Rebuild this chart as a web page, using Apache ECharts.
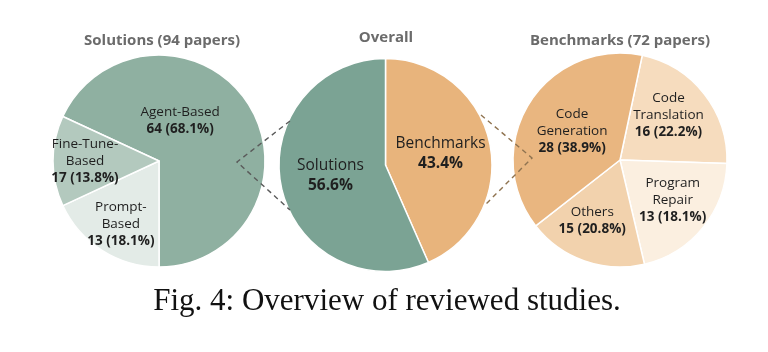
<!DOCTYPE html>
<html><head><meta charset="utf-8">
<script src="https://cdn.jsdelivr.net/npm/echarts@6/dist/echarts.min.js"></script>
<style>html,body{margin:0;padding:0;background:#fff}#c{width:768px;height:352px}</style>
</head><body><div id="c"></div>
<script>
// ---- data ----
const solutionCats = ['Agent-Based', 'Prompt-Based', 'Fine-Tune-Based'];
const solutionLabels = ['Agent-Based', 'Prompt-\nBased', 'Fine-Tune-\nBased'];
const solutionCounts = [64, 13, 17];
const solutionPctText = ['68.1%', '18.1%', '13.8%'];
const solutionShare = [68.1, 18.1, 13.8];

const overallCats = ['Benchmarks', 'Solutions'];
const overallShare = [43.4, 56.6];

const benchCats = ['Code Translation', 'Program Repair', 'Others', 'Code Generation'];
const benchLabels = ['Code\nTranslation', 'Program\nRepair', 'Others', 'Code\nGeneration'];
const benchCounts = [16, 13, 15, 28];
const benchPctText = ['22.2%', '18.1%', '20.8%', '38.9%'];
const benchShare = [22.2, 20.8, 18.1, 38.9];

const titles = ['Solutions (94 papers)', 'Overall', 'Benchmarks (72 papers)'];
const caption = 'Fig. 4: Overview of reviewed studies.';

// ---- styles ----
const solutionColors = ['#8fb0a1', '#e3ebe7', '#b3c9be'];
const overallColors = ['#e8b47c', '#7ba394'];
const benchColors = ['#f6dcbe', '#fbefe0', '#f2d2ad', '#e9b680'];
const solutionOffsets = [[-26, -10], [-8, 16], [-18, 0]];
const overallOffsets = [[0, 0], [0, -1]];
const benchOffsets = [[4, -10], [9, 4], [-9, 7], [0, 1]];
const FONT = '"Open Sans", "Noto Sans", sans-serif';

const chart = echarts.init(document.getElementById('c'), null, {renderer: 'canvas'});

function richLabel(size, lh) {
  return {
    show: true, position: 'inside', color: '#1f1f1f', fontFamily: FONT, align: 'center',
    rich: {
      a: {fontSize: size, lineHeight: lh, color: '#1f1f1f', fontFamily: FONT, align: 'center'},
      b: {fontSize: size, lineHeight: lh, color: '#1f1f1f', fontWeight: 'bold', fontFamily: FONT, align: 'center'}
    }
  };
}

const common = {
  type: 'pie', silent: true, animation: false, avoidLabelOverlap: false,
  clockwise: true, labelLine: {show: false},
  itemStyle: {borderColor: '#ffffff', borderWidth: 1.5},
  emphasis: {disabled: true}
};

const option = {
  backgroundColor: '#ffffff',
  series: [
    Object.assign({}, common, {
      center: [159, 161], radius: [0, 106], startAngle: 155.2,
      label: Object.assign(richLabel(13.5, 17), {
        formatter: p => '{a|' + solutionLabels[p.dataIndex].split('\n').join('}\n{a|') + '}\n{b|' + solutionCounts[p.dataIndex] + ' (' + solutionPctText[p.dataIndex] + ')}'
      }),
      labelLayout: p => ({dx: solutionOffsets[p.dataIndex][0], dy: solutionOffsets[p.dataIndex][1]}),
      data: solutionCats.map((n, i) => ({name: n, value: solutionShare[i], itemStyle: {color: solutionColors[i]}}))
    }),
    Object.assign({}, common, {
      center: [385.5, 165], radius: [0, 106.5], startAngle: 90,
      label: Object.assign(richLabel(15.5, 20), {
        formatter: p => '{a|' + overallCats[p.dataIndex] + '}\n{b|' + overallShare[p.dataIndex].toFixed(1) + '%}'
      }),
      labelLayout: p => ({dx: overallOffsets[p.dataIndex][0], dy: overallOffsets[p.dataIndex][1]}),
      data: overallCats.map((n, i) => ({name: n, value: overallShare[i], itemStyle: {color: overallColors[i]}}))
    }),
    Object.assign({}, common, {
      center: [620, 160], radius: [0, 107], startAngle: 78,
      label: Object.assign(richLabel(13.5, 17), {
        formatter: p => '{a|' + benchLabels[p.dataIndex].split('\n').join('}\n{a|') + '}\n{b|' + benchCounts[p.dataIndex] + ' (' + benchPctText[p.dataIndex] + ')}'
      }),
      labelLayout: p => ({dx: benchOffsets[p.dataIndex][0], dy: benchOffsets[p.dataIndex][1]}),
      data: benchCats.map((n, i) => ({name: n, value: benchShare[i], itemStyle: {color: benchColors[i]}}))
    })
  ],
  graphic: [
    {type: 'polyline', z: 100, shape: {points: [[290, 121], [237, 162], [290, 210]]},
     style: {stroke: '#5a5a5a', lineWidth: 1.4, lineDash: [5, 4], fill: null}},
    {type: 'polyline', z: 100, shape: {points: [[481, 115], [532, 158], [485, 205]]},
     style: {stroke: '#8f7350', lineWidth: 1.4, lineDash: [5, 4], fill: null}},
    {type: 'text', x: 162, y: 41, style: {text: titles[0], font: 'bold 15px ' + FONT, fill: '#6b6b6b', textAlign: 'center', textVerticalAlign: 'middle'}},
    {type: 'text', x: 386, y: 38, style: {text: titles[1], font: 'bold 15px ' + FONT, fill: '#6b6b6b', textAlign: 'center', textVerticalAlign: 'middle'}},
    {type: 'text', x: 620, y: 41, style: {text: titles[2], font: 'bold 15px ' + FONT, fill: '#6b6b6b', textAlign: 'center', textVerticalAlign: 'middle'}},
    {type: 'text', x: 387, y: 302, style: {text: caption, font: '31px "Liberation Serif", "Times New Roman", serif', fill: '#111111', textAlign: 'center', textVerticalAlign: 'middle'}}
  ]
};
chart.setOption(option);
</script>
</body></html>
